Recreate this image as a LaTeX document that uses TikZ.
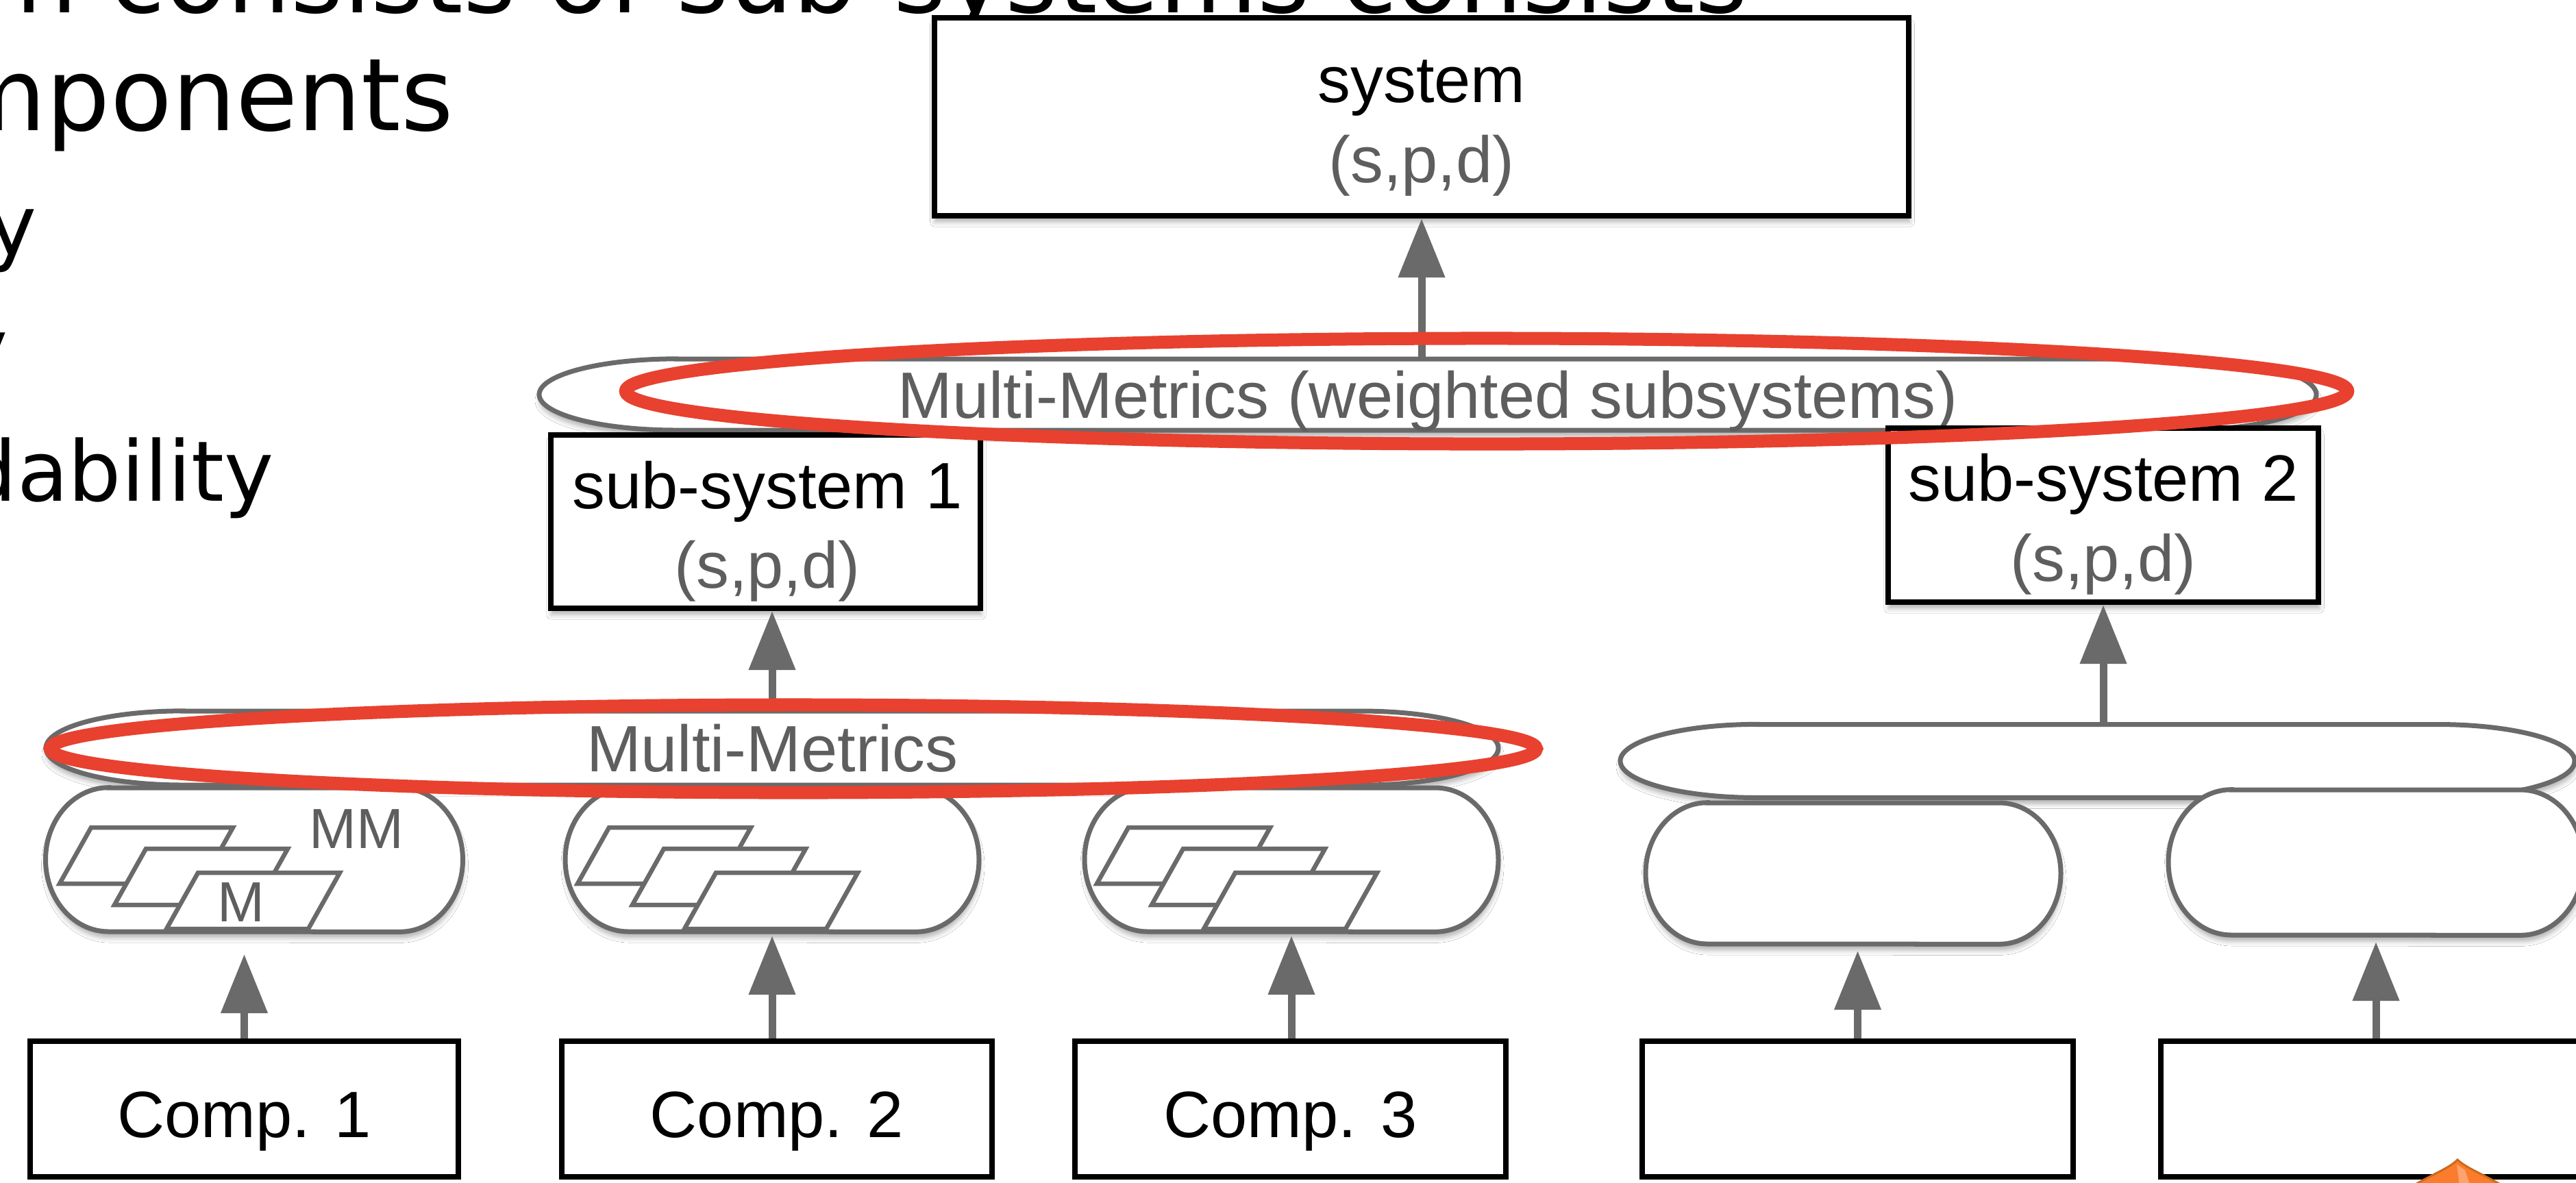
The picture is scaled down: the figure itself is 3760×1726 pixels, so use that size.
\documentclass[tikz,border=0pt]{standalone}
\usepackage{fontspec}
\setmainfont{Liberation Sans}
\newfontfamily\slidefont{DejaVu Sans}
\usetikzlibrary{arrows.meta,shadows.blur}
\definecolor{lgray}{HTML}{6A6A6A}
\definecolor{tgray}{HTML}{5E5E5E}
\definecolor{hlred}{HTML}{E8412F}
\definecolor{orfill}{HTML}{FB7C2C}
\definecolor{orline}{HTML}{CC6A1E}
\definecolor{orlight}{HTML}{FDA36E}
\newcommand\diagfont{\fontsize{27.2}{32}\selectfont}
\newcommand\smfont{\fontsize{23.5}{28}\selectfont}
\newcommand\slideA{\slidefont\fontsize{41.8}{50}\selectfont}
\newcommand\slideB{\slidefont\fontsize{34.7}{42}\selectfont}
\tikzset{
 boxnode/.style={draw=black, line width=0.08cm, fill=white, inner sep=0pt},
 shadowed/.style={blur shadow={shadow xshift=0.01cm, shadow yshift=-0.09cm, shadow blur radius=0.07cm, shadow opacity=30}},
 pilledge/.style={draw=lgray, line width=0.07cm, fill=white},
 pillnode/.style={draw=none, inner sep=0pt, outer sep=0pt, text=tgray, font=\diagfont, text height=0.68cm, text depth=0pt},
 compnode/.style={boxnode, font=\diagfont, text height=0.82cm, text depth=0pt},
 bigtxt/.style={font=\diagfont, inner sep=0pt, anchor=base},
 subtxt/.style={font=\diagfont, text=tgray, inner sep=0pt, anchor=base},
 mtxt/.style={font=\smfont, text=tgray, inner sep=0pt, anchor=base},
 slidetxt/.style={font=\slideA, inner sep=0pt, anchor=base west},
 slidetxtb/.style={font=\slideB, inner sep=0pt, anchor=base west},
 upar/.style={draw=lgray, line width=0.11cm, -{Triangle[length=0.86cm,width=0.66cm]}},
 hl/.style={draw=hlred, line width=0.19cm},
 paral/.style={draw=lgray, line width=0.065cm, fill=white, line join=miter},
}
% cx cy w h rx
\newcommand\pillpath[5]{%
 \draw[pilledge,shadowed] ({#1-#3/2+#5},{#2-#4/2}) -- ({#1+#3/2-#5},{#2-#4/2})
   arc[start angle=90,end angle=-90,x radius={#5*0.01cm},y radius={#4*0.005cm}]
   -- ({#1-#3/2+#5},{#2+#4/2})
   arc[start angle=270,end angle=90,x radius={#5*0.01cm},y radius={#4*0.005cm}]
   -- cycle;}
% top-left x y
\newcommand\paragram[2]{%
 \draw[paral] (#1,#2) -- ({#1+207},#2) -- ({#1+161},{#2+82}) -- ({#1-46},{#2+82}) -- cycle;}
% three stacked sheets in a pill centred at cx cy
\newcommand\sheets[2]{%
 \paragram{#1-238}{#2-47}\paragram{#1-158}{#2-16}\paragram{#1-82}{#2+19}}
\begin{document}
\begin{tikzpicture}[x=0.01cm,y=-0.01cm]
\useasboundingbox (0,0) rectangle (3760,1726);
\fill[white] (0,0) rectangle (3760,1726);
\clip (0,0) rectangle (3760,1726);

% slide text (cut off by the frame)
\node[slidetxt] (s1) at (-30,18) {m consists of sub-systems consists};
\node[slidetxt] (s2) at (-76,190) {mponents};
\node[slidetxtb] (s3) at (-19,372) {y};
\node[slidetxtb] (s4) at (-61,552) {y};
\node[slidetxtb] (s5) at (-53,731) {dability};

% system
\node[boxnode,shadowed,minimum width=14.22cm,minimum height=2.89cm] (sys) at (2075,170.5) {};
\node[bigtxt] (sysT) at (2075,149) {system};
\node[subtxt] (sysS) at (2075,266) {(s,p,d)};

% weighted multi-metrics
\pillpath{2084}{576}{2594}{104}{200}
\node[pillnode,minimum width=25.94cm,minimum height=1.04cm] (mmw) at (2084,576) {Multi-Metrics (weighted subsystems)};

% sub-systems
\node[boxnode,shadowed,minimum width=6.27cm,minimum height=2.53cm] (ss1) at (1117.5,761.5) {};
\node[bigtxt] (ss1T) at (1120,742) {sub-system 1};
\node[subtxt] (ss1S) at (1120,858) {(s,p,d)};
\node[boxnode,shadowed,minimum width=6.28cm,minimum height=2.54cm] (ss2) at (3070,752) {};
\node[bigtxt] (ss2T) at (3070,731) {sub-system 2};
\node[subtxt] (ss2S) at (3070,848) {(s,p,d)};

% multi-metrics pills
\pillpath{1127}{1092}{2120}{108}{200}
\node[pillnode,minimum width=21.2cm,minimum height=1.08cm] (mm1) at (1127,1092) {Multi-Metrics};
\pillpath{3061.5}{1111}{1393}{107}{200}
\node[pillnode,minimum width=13.93cm,minimum height=1.07cm] (mm2) at (3061.5,1111) {};

% component metric pills
\pillpath{371}{1255}{609}{210}{92}
\node[pillnode,minimum width=6.09cm,minimum height=2.1cm] (p1) at (371,1255) {};
\pillpath{1127}{1255}{604}{210}{92}
\node[pillnode,minimum width=6.04cm,minimum height=2.1cm] (p2) at (1127,1255) {};
\pillpath{1885}{1255}{604}{210}{92}
\node[pillnode,minimum width=6.04cm,minimum height=2.1cm] (p3) at (1885,1255) {};
\pillpath{2705}{1275}{606}{206}{90}
\node[pillnode,minimum width=6.06cm,minimum height=2.06cm] (p4) at (2705,1275) {};
\pillpath{3468}{1259}{606}{212}{92}
\node[pillnode,minimum width=6.06cm,minimum height=2.12cm] (p5) at (3468,1259) {};

\sheets{371}{1255}
\sheets{1127}{1255}
\sheets{1885}{1255}
\node[mtxt] (mmT) at (520,1238) {MM};
\node[mtxt] (mT) at (352,1345) {M};

% components
\node[compnode,minimum width=6.25cm,minimum height=1.98cm] (c1) at (356.5,1619) {Comp. 1};
\node[compnode,minimum width=6.28cm,minimum height=1.98cm] (c2) at (1134,1619) {Comp. 2};
\node[compnode,minimum width=6.29cm,minimum height=1.98cm] (c3) at (1883.5,1619) {Comp. 3};
\node[compnode,minimum width=6.29cm,minimum height=1.98cm] (c4) at (2711.5,1619) {};
\node[compnode,minimum width=6.28cm,minimum height=1.98cm] (c5) at (3468,1619) {};

% arrows
\draw[upar,shorten >=0.33cm] (c1.north) -- (c1.north |- p1.south);
\draw[upar,shorten >=0.06cm] (p2.south |- c2.north) -- (p2.south);
\draw[upar,shorten >=0.06cm] (p3.south |- c3.north) -- (p3.south);
\draw[upar,shorten >=0.10cm] (c4.north) -- (c4.north |- p4.south);
\draw[upar,shorten >=0.10cm] (c5.north) -- (c5.north |- p5.south);
\draw[upar] (mm1.north) -- (mm1.north |- ss1.south);
\draw[upar] (ss2.south |- mm2.north) -- (ss2.south);
\draw[upar] (sys.south |- mmw.north) -- (sys.south);

% red highlights
\draw[hl] (2170,571) ellipse[x radius=12.56cm, y radius=0.77cm];
\draw[hl] (1158,1093) ellipse[x radius=10.84cm, y radius=0.64cm];

% orange tip at the bottom edge
\fill[orfill,draw=orline,line width=0.03cm] (3520,1732) .. controls (3555,1712) and (3575,1705) .. (3587,1693) .. controls (3600,1705) and (3620,1712) .. (3655,1732) -- cycle;
\fill[orlight] (3586,1700) -- (3598,1708) -- (3606,1732) -- (3590,1732) -- cycle;
\end{tikzpicture}
\end{document}
